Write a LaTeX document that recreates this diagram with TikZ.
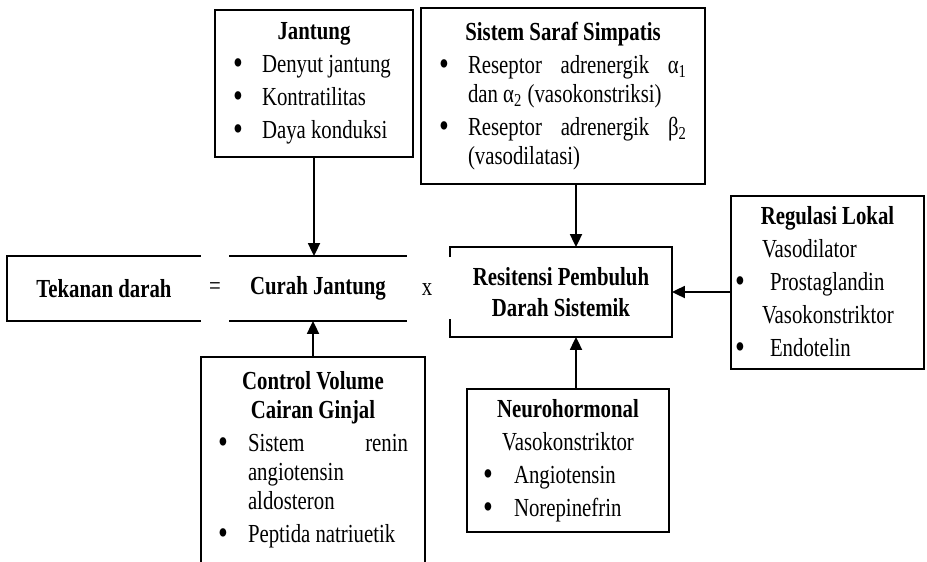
\documentclass[tikz,border=0pt]{standalone}
\usepackage{fontspec}
\setmainfont{Liberation Serif}[FakeStretch=0.8]
\usetikzlibrary{arrows.meta}
\newcommand{\ttl}[1]{{\centering\bfseries #1\par}}
\newcommand{\bitem}[2][14.5pt]{\par\hangindent=#1\hangafter=1\noindent\makebox[#1][l]{\raisebox{-0.15ex}{\scalebox{1.35}{\textbullet}}}#2\par}

\begin{document}
\begin{tikzpicture}[x=0.5pt,y=-0.5pt,line width=0.9pt,
  font=\fontsize{13}{14.5}\selectfont\setlength{\parskip}{2pt},
  box/.style={draw,inner xsep=#1,inner ysep=0pt,align=justify},
  box/.default=9pt,
  bar/.style={inner sep=0pt,font=\fontsize{13}{14.5}\selectfont\bfseries,align=center},
  arr/.style={-{Triangle[length=6.5pt,width=6pt]}}]
\useasboundingbox (0,0) rectangle (927,562);

\node[box,text width=81pt,minimum height=73.5pt] (jan) at (314,83.5)
  {\ttl{Jantung}\bitem{Denyut jantung}\bitem{Kontratilitas}\bitem{Daya konduksi}};
\node[box,text width=124pt,minimum height=88pt] (sis) at (563,96)
  {\ttl{Sistem Saraf Simpatis}
   \bitem{Reseptor adrenergik α\textsubscript{1}\linebreak dan α\textsubscript{2} (vasokonstriksi)}
   \bitem{Reseptor adrenergik β\textsubscript{2}\linebreak (vasodilatasi)}};
\node[bar,minimum width=96pt,minimum height=31.5pt] (tek) at (104,288.5) {Tekanan darah};
\node (eq) at (215,289) {=};
\node[bar,minimum width=88pt,minimum height=31.5pt] (cur) at (318,288.5) {Curah Jantung};
\node (kali) at (427,290) {x};
\node[bar,minimum width=110pt,minimum height=44pt] (res) at (561,292) {Resitensi Pembuluh\\[1pt]Darah Sistemik};
\node[box=2pt,text width=92.5pt,minimum height=86.5pt] (reg) at (827.5,282.5)
  {\ttl{Regulasi Lokal}\noindent\hspace*{13.5pt}Vasodilator\par\bitem[17.5pt]{Prostaglandin}
   \noindent\hspace*{13.5pt}Vasokonstriktor\par\bitem[17.5pt]{Endotelin}};
\node[box=8pt,text width=85pt,minimum height=71.5pt] (neu) at (568,460.5)
  {\ttl{Neurohormonal}{\centering Vasokonstriktor\par}\bitem[15.5pt]{Angiotensin}\bitem[15.5pt]{Norepinefrin}};
\node[box=8pt,draw=none,text width=95pt,minimum height=102pt] (ctl) at (313,460)
  {\ttl{Control Volume\\Cairan Ginjal}\bitem[15pt]{Sistem renin\linebreak angiotensin\newline aldosteron}\bitem[15pt]{Peptida natriuetik}};

\draw (tek.north east) -- (tek.north west) -- (tek.south west) -- (tek.south east);
\draw (cur.north west) -- (cur.north east) (cur.south west) -- (cur.south east);
\draw ([yshift=-5pt]res.north west) -- (res.north west) -- (res.north east) -- (res.south east) -- (res.south west) -- ([yshift=9pt]res.south west);
\draw (ctl.south west) -- (ctl.north west) -- (ctl.north east) -- (ctl.south east);

\coordinate (rtop) at ([xshift=7.5pt]res.north);
\coordinate (rbot) at ([xshift=7.5pt]res.south);
\draw[arr] (jan.south) -- (jan.south |- cur.north);
\draw[arr] (ctl.north) -- (ctl.north |- cur.south);
\draw[arr] (sis.south -| rtop) -- (rtop);
\draw[arr] (neu.north -| rbot) -- (rbot);
\draw[arr] (reg.west |- res.east) -- (res.east);
\end{tikzpicture}
\end{document}
